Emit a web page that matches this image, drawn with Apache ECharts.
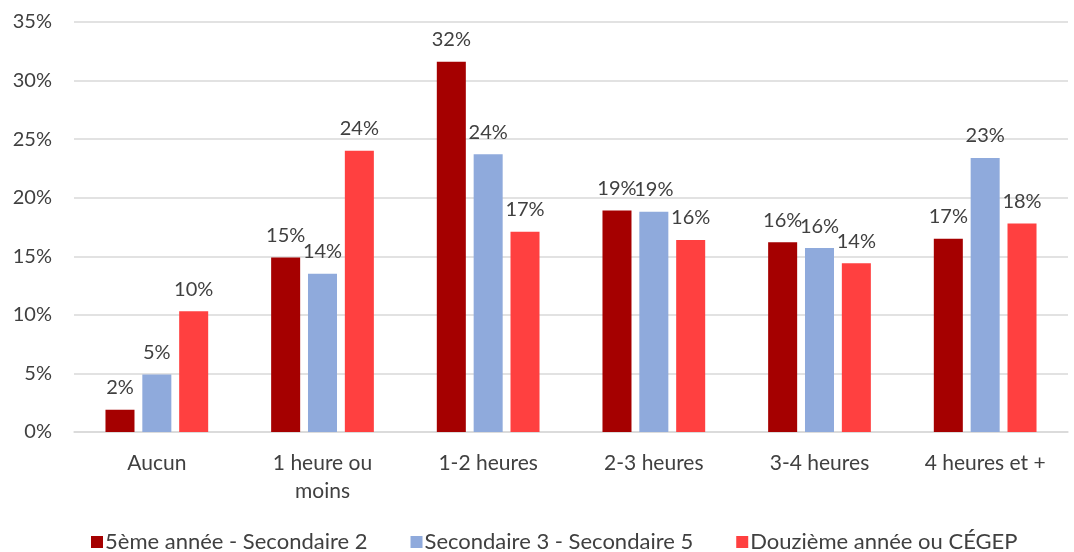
<!DOCTYPE html>
<html><head><meta charset="utf-8">
<script src="https://cdn.jsdelivr.net/npm/echarts@6/dist/echarts.min.js"></script>
<style>html,body{margin:0;padding:0;background:#fff}#c{width:1074px;height:552px}</style>
</head><body><div id="c"></div>
<script>
const categories = ["Aucun", "1 heure ou\nmoins", "1-2 heures", "2-3 heures", "3-4 heures", "4 heures et +"];
const seriesNames = ["5ème année - Secondaire 2", "Secondaire 3 - Secondaire 5", "Douzième année ou CÉGEP"];
const s1 = [1.9, 14.9, 31.6, 18.9, 16.2, 16.5];
const s2 = [4.9, 13.5, 23.7, 18.8, 15.7, 23.4];
const s3 = [10.3, 24.0, 17.1, 16.4, 14.4, 17.8];
const colors = ["#A50000", "#8FAADC", "#FF4040"];
const yTicks = [0, 5, 10, 15, 20, 25, 30, 35];

const FONT = "Lato";
const chart = echarts.init(document.getElementById('c'));
const mk = (name, data, color) => ({
  name, type: 'bar', data,
  itemStyle: { color },
  barGap: '27%', barCategoryGap: '38%',
  label: { show: true, position: 'top', distance: 12, color: '#404040', fontFamily: FONT, fontSize: 20,
    formatter: p => Math.round(p.value) + '%' }
});
chart.setOption({
  animation: false,
  textStyle: { fontFamily: FONT },
  grid: { left: 74, right: 6, top: 22, bottom: 120 },
  legend: {
    top: 526, left: 86, itemWidth: 12, itemHeight: 12, itemGap: 43, icon: 'rect',
    textStyle: { color: '#404040', fontSize: 22, fontFamily: FONT, padding: [0, 0, 0, -3] },
    data: seriesNames
  },
  xAxis: {
    type: 'category', data: categories,
    axisLine: { lineStyle: { color: '#D9D9D9', width: 1.5 } },
    axisTick: { show: false },
    axisLabel: { color: '#404040', fontSize: 21, fontFamily: FONT, margin: 17, lineHeight: 28 }
  },
  yAxis: {
    type: 'value', min: yTicks[0], max: yTicks[yTicks.length - 1], interval: 5,
    axisLine: { show: false }, axisTick: { show: false },
    splitLine: { lineStyle: { color: '#D9D9D9', width: 1.5 } },
    axisLabel: { color: '#404040', fontSize: 20, fontFamily: FONT, margin: 22, formatter: v => v + '%' }
  },
  series: [mk(seriesNames[0], s1, colors[0]), mk(seriesNames[1], s2, colors[1]), mk(seriesNames[2], s3, colors[2])]
});
</script></body></html>
